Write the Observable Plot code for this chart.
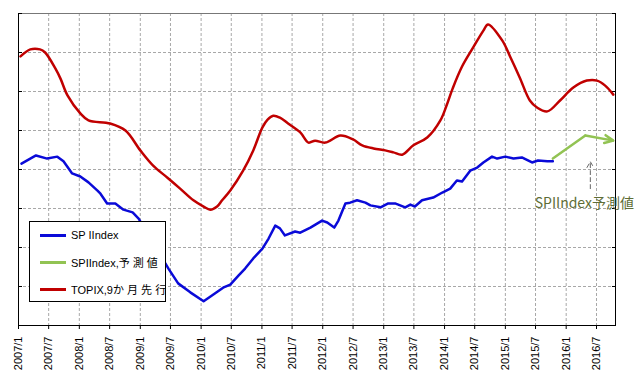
<!DOCTYPE html>
<html>
<head>
<meta charset="utf-8">
<script src="https://cdn.jsdelivr.net/npm/d3@7"></script>
<script src="https://cdn.jsdelivr.net/npm/@observablehq/plot@0.6"></script>
<style>
  html, body { margin: 0; padding: 0; background: #fff; }
  #wrap { position: relative; width: 644px; height: 388px; font-family: "Liberation Sans", Arial, sans-serif; }
  #legend { position: absolute; left: 29px; top: 221px; width: 135px; height: 79px; border: 1px solid #000; background: #fff; }
  .item { position: absolute; left: 10px; height: 14px; display: flex; align-items: center; font-size: 11px; color: #000; font-family: "Liberation Sans", "Noto Sans CJK JP", sans-serif; white-space: nowrap; }
  .sw { width: 26px; height: 3px; margin-right: 5px; }
</style>
</head>
<body>
<div id="wrap"></div>
<script>
// X axis tick labels
const tickLabels = ["2007/1","2007/7","2008/1","2008/7","2009/1","2009/7","2010/1","2010/7","2011/1","2011/7",
  "2012/1","2012/7","2013/1","2013/7","2014/1","2014/7","2015/1","2015/7","2016/1","2016/7"];

// SPI Index (blue)
const spiDates = ["2007-01-19","2007-04-16","2007-06-22","2007-08-22","2007-09-28","2007-11-19","2008-01-07","2008-02-25",
  "2008-04-19","2008-05-07","2008-06-16","2008-08-04","2008-09-22","2008-11-16","2008-12-22","2009-06-19","2009-08-16",
  "2009-10-28","2010-01-16","2010-03-07","2010-05-13","2010-06-25","2010-08-13","2010-09-22","2010-11-10","2011-01-04",
  "2011-02-10","2011-03-22","2011-04-19","2011-05-19","2011-07-19","2011-08-19","2011-10-19","2011-12-28","2012-01-28",
  "2012-03-10","2012-04-04","2012-05-16","2012-06-13","2012-07-25","2012-09-13","2012-10-13","2012-12-13","2013-01-28",
  "2013-03-10","2013-05-10","2013-06-10","2013-07-07","2013-08-19","2013-10-25","2013-12-19","2014-02-04","2014-03-16",
  "2014-04-16","2014-06-04","2014-07-16","2014-08-22","2014-10-13","2014-11-13","2015-01-01","2015-02-19","2015-04-10",
  "2015-06-10","2015-07-16","2015-09-10","2015-10-13"];
const spiValues = [415,436,428,433,421,390,382,367,
  346,338,313,313,297,290,274,146,108,
  85,62,77,97,105,128,146,172,197,
  223,256,249,231,241,238,251,269,264,
  251,269,313,315,321,315,308,303,313,
  313,303,310,305,321,328,341,351,372,
  369,397,405,418,433,428,433,428,431,
  418,423,421,421];

// SPI Index forecast (green)
const fcDates = ["2015-10-13","2016-04-25","2016-10-10"];
const fcValues = [428,487,474];

// TOPIX, 9 months lead (red)
const topixDates = ["2007-01-13","2007-03-13","2007-05-10","2007-06-10","2007-08-10","2007-09-10","2007-10-22","2008-01-07",
  "2008-02-25","2008-07-04","2008-10-04","2009-01-01","2009-03-19","2009-06-13","2009-08-28","2009-11-16","2010-01-16",
  "2010-02-25","2010-04-07","2010-05-07","2010-06-25","2010-09-10","2010-11-10","2011-01-04","2011-02-04","2011-03-10",
  "2011-04-19","2011-06-07","2011-08-19","2011-10-07","2011-11-16","2012-01-16","2012-04-16","2012-07-01","2012-08-25",
  "2012-11-01","2013-01-10","2013-02-28","2013-04-22","2013-06-28","2013-09-19","2013-12-07","2014-01-13","2014-02-19",
  "2014-04-16","2014-06-22","2014-08-22","2014-09-19","2014-12-13","2015-02-01","2015-03-28","2015-05-28","2015-07-10",
  "2015-09-10","2015-11-25","2016-02-13","2016-05-04","2016-07-04","2016-08-22","2016-10-10"];
const topixValues = [690,708,708,700,659,633,590,544,
  526,518,500,449,410,379,351,321,305,
  297,305,321,346,397,449,508,528,538,
  533,518,495,469,474,469,487,477,462,
  454,449,444,438,462,482,526,564,608,
  664,713,756,772,731,687,636,577,559,
  549,577,610,628,628,615,592];

// annotation
const noteText = ["SPIIndex予測値"];
const noteDate = ["2016-04-19"];
const noteValue = [313];
const noteArrowDates = ["2016-05-25","2016-05-25"];
const noteArrowValues = [351, 420];

const parse = s => new Date(s + "T00:00:00Z");
const tickDates = tickLabels.map(s => { const [y, m] = s.split("/"); return new Date(Date.UTC(+y, +m - 1, 1)); });
const spi = spiDates.map((d, i) => ({date: parse(d), value: spiValues[i]}));
const fc = fcDates.map((d, i) => ({date: parse(d), value: fcValues[i]}));
const topix = topixDates.map((d, i) => ({date: parse(d), value: topixValues[i]}));
const fcHead = [{x1: fc[1].date, y1: fc[1].value, x2: fc[2].date, y2: fc[2].value}];
const yTicks = d3.range(0, 801, 100);

const chart = Plot.plot({
  width: 644,
  height: 388,
  marginLeft: 18,
  marginRight: 29,
  marginTop: 13,
  marginBottom: 63,
  style: {fontFamily: "'Liberation Sans', Arial, sans-serif", fontSize: "11px", background: "#fff", overflow: "visible"},
  x: {type: "utc", domain: [parse("2007-01-01"), parse("2016-10-23")]},
  y: {domain: [0, 800]},
  marks: [
    Plot.gridY({ticks: yTicks, stroke: "#a8a8a8", strokeOpacity: 1, strokeDasharray: "3,2"}),
    Plot.gridX({ticks: tickDates, stroke: "#a8a8a8", strokeOpacity: 1, strokeDasharray: "3,2"}),
    Plot.frame({stroke: "#000"}),
    Plot.ruleY([800], {stroke: "#777"}),
    Plot.axisY({anchor: "left", ticks: yTicks, tickFormat: () => "", tickSize: -4, stroke: "#000"}),
    Plot.axisY({anchor: "right", ticks: yTicks, tickFormat: () => "", tickSize: -4, stroke: "#000"}),
    Plot.axisX({ticks: tickDates, tickFormat: d3.utcFormat("%Y/%-m"), tickRotate: -90, tickSize: 4, tickPadding: 7, fontSize: 11, fill: "#000", stroke: "#000"}),
    Plot.line(topix, {x: "date", y: "value", stroke: "#c00000", strokeWidth: 2.5, curve: "catmull-rom"}),
    Plot.line(spi, {x: "date", y: "value", stroke: "#0a0ad8", strokeWidth: 2.5}),
    Plot.line(fc.slice(0, 2), {x: "date", y: "value", stroke: "#92c353", strokeWidth: 2.5}),
    Plot.arrow(fcHead, {x1: "x1", y1: "y1", x2: "x2", y2: "y2", stroke: "#92c353", strokeWidth: 2.5, headLength: 12, headAngle: 50, bend: 0}),
    Plot.arrow([{x1: parse(noteArrowDates[0]), y1: noteArrowValues[0], x2: parse(noteArrowDates[1]), y2: noteArrowValues[1]}],
      {x1: "x1", y1: "y1", x2: "x2", y2: "y2", stroke: "#666", strokeWidth: 1, strokeDasharray: "4,3", headLength: 10, headAngle: 60}),
    Plot.text(noteText, {x: () => parse(noteDate[0]), y: () => noteValue[0], text: d => d, fill: "#5e6d36", fontSize: 14, fontFamily: "'Noto Sans CJK JP', sans-serif"})
  ]
});

const wrap = document.getElementById("wrap");
wrap.appendChild(chart);

// Legend (inside plot, bottom-left)
const legendItems = [
  {label: "SP IIndex", color: "#0a0ad8"},
  {label: "SPIIndex,予 測 値", color: "#92c353"},
  {label: "TOPIX,9か 月 先 行", color: "#c00000"}
];
const legend = document.createElement("div");
legend.id = "legend";
legendItems.forEach((it, i) => {
  const row = document.createElement("div");
  row.className = "item";
  row.style.top = (6 + i * 27) + "px";
  const sw = document.createElement("div");
  sw.className = "sw";
  sw.style.background = it.color;
  const tx = document.createElement("span");
  tx.textContent = it.label;
  row.appendChild(sw);
  row.appendChild(tx);
  legend.appendChild(row);
});
wrap.appendChild(legend);
</script>
</body>
</html>
